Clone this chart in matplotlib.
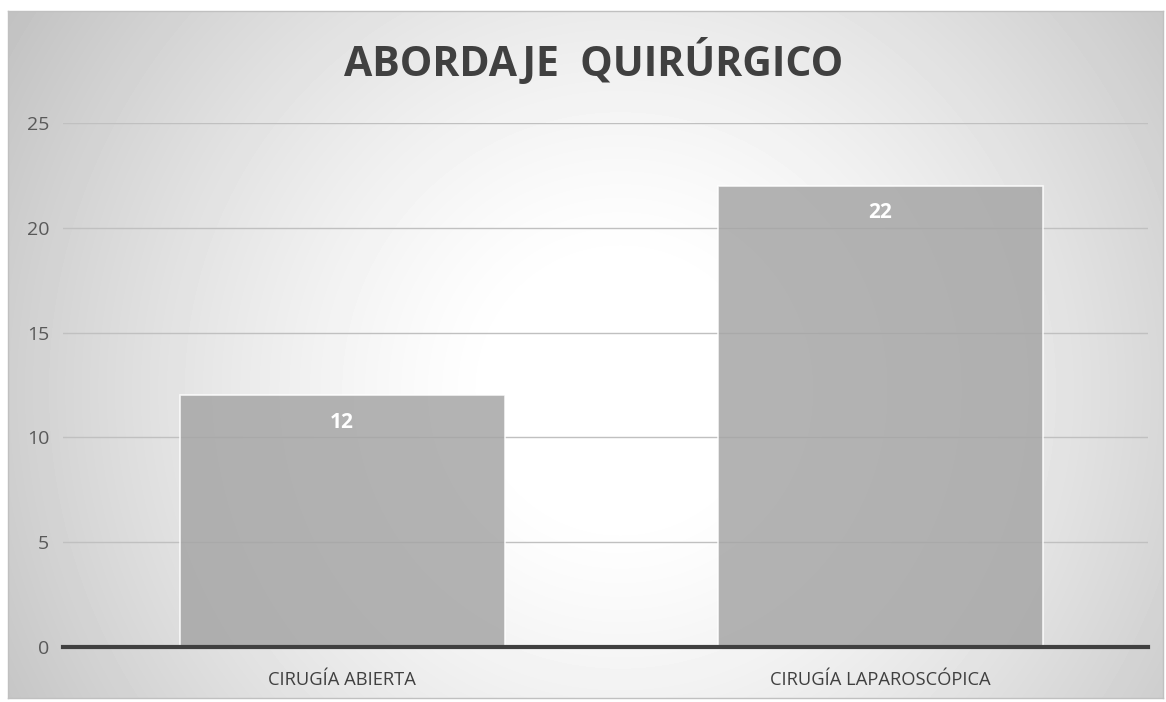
import numpy as np
import matplotlib
matplotlib.use("Agg")
import matplotlib.pyplot as plt

plt.rcParams['font.family'] = ['Open Sans', 'DejaVu Sans']

# ---- Data ----
categories = ["CIRUGÍA ABIERTA", "CIRUGÍA LAPAROSCÓPICA"]
values = [12, 22]
y_ticks = [0, 5, 10, 15, 20, 25]
title = "ABORDAJE  QUIRÚRGICO"

W, H = 1166, 702
fig = plt.figure(figsize=(W / 100, H / 100), dpi=100)
fig.patch.set_facecolor("white")

# ---- Background frame with radial gradient ----
fx0, fx1, fy0, fy1 = 8, 1163, 11, 698   # frame in pixels (top-down)
bg = fig.add_axes([fx0 / W, (H - fy1) / H, (fx1 - fx0) / W, (fy1 - fy0) / H])
xx, yy = np.meshgrid(np.arange(fx0, fx1), np.arange(fy0, fy1))
d = np.sqrt((xx - 620) ** 2 + (yy - 390) ** 2)
r = np.clip((d - 120) / 600, 0, None)
shade = (255 - 62 * r ** 1.3) / 255.0
bg.imshow(shade, cmap="gray", vmin=0, vmax=1, aspect="auto",
          extent=[0, 1, 0, 1], interpolation="bilinear")
bg.set_xticks([])
bg.set_yticks([])
for s in bg.spines.values():
    s.set_color("#c0c0c0")
    s.set_linewidth(1)

# ---- Main plot ----
ax = fig.add_axes([63 / W, (H - 647) / H, 1085 / W, 524 / H])
ax.patch.set_alpha(0)
x = np.arange(len(categories))
ax.bar(x, values, width=0.604, color="#a6a6a6", alpha=0.85,
       edgecolor="white", linewidth=1.2, zorder=3)
ax.set_xlim(-0.5186, 1.498)
ax.set_ylim(0, 25)
ax.set_yticks(y_ticks)
ax.grid(axis="y", color="#c0c0c0", linewidth=1, zorder=0)
ax.set_axisbelow(True)

for s in ["top", "right", "left"]:
    ax.spines[s].set_visible(False)
ax.spines["bottom"].set_color("#404040")
ax.spines["bottom"].set_linewidth(3)
ax.spines["bottom"].set_zorder(4)

ax.tick_params(axis="both", length=0)
ax.tick_params(axis="y", labelsize=14, labelcolor="#595959", pad=10)
ax.set_xticks(x)
ax.set_xticklabels(categories, fontsize=13.2, color="#404040")
ax.tick_params(axis="x", pad=17)

for i, v in enumerate(values):
    ax.annotate(str(v), (x[i], v), xytext=(0, -19.5), textcoords="offset points",
                ha="center", va="center", color="white", fontsize=15,
                fontweight="bold", zorder=5)

fig.text(594 / W, (H - 62) / H, title, ha="center", va="center",
         fontsize=29.5, fontweight="bold", color="#404040")

fig.savefig("out.png", dpi=100)
